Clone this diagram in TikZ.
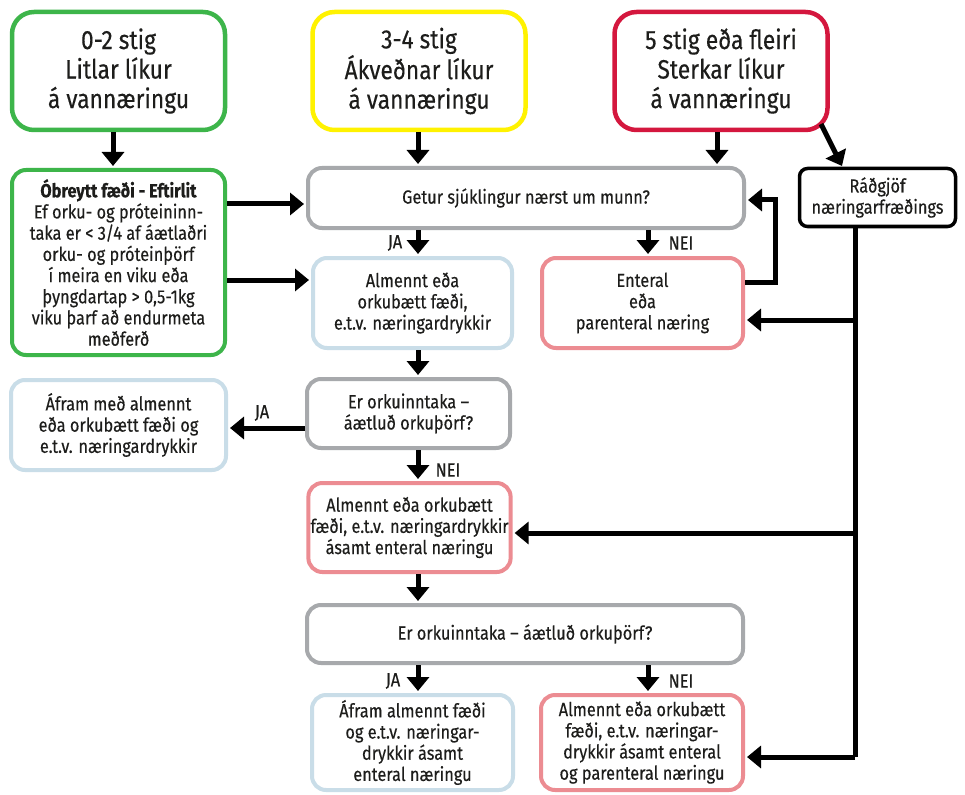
\documentclass[tikz,border=0pt]{standalone}
\usepackage{fontspec}
\setmainfont{Fira Sans}[FakeStretch=0.86,FakeBold=0.3]
\usetikzlibrary{arrows.meta,calc}
\definecolor{cgreen}{HTML}{3DB54A}
\definecolor{cyellow}{HTML}{FFF200}
\definecolor{cred}{HTML}{D4173E}
\definecolor{cgray}{HTML}{A7A9AC}
\definecolor{cblue}{HTML}{C9DDE8}
\definecolor{cpink}{HTML}{EC8C92}
\definecolor{ctext}{HTML}{1D1D1B}
\tikzset{
  box/.style={draw, rounded corners=14pt, line width=4pt, align=center,
    inner sep=2pt, text=ctext, font=\fontsize{19}{21.2}\selectfont},
  topbox/.style={box, rounded corners=22pt, line width=4.5pt,
    minimum width=213pt, minimum height=118pt,
    font=\fontsize{26.5}{29.5}\selectfont},
  arr/.style={line width=5pt, -{Triangle[width=22pt,length=14pt]}, shorten >=2pt},
  wire/.style={line width=5pt},
  lbl/.style={text=ctext, font=\fontsize{19}{21}\selectfont, inner sep=0pt}
}
\begin{document}
\begin{tikzpicture}[x=1pt,y=-1pt]
\useasboundingbox[fill=white] (0,0) rectangle (965,794);

% risk level boxes
\node[topbox, draw=cgreen]  (t1) at (118.5,71) {0-2 stig\\Litlar líkur\\á vannæringu};
\node[topbox, draw=cyellow] (t2) at (419,71)   {3-4 stig\\Ákveðnar líkur\\á vannæringu};
\node[topbox, draw=cred]    (t3) at (721,71)   {5 stig eða fleiri\\Sterkar líkur\\á vannæringu};

% second row
\node[box, draw=cgreen, minimum width=213pt, minimum height=185pt] (g2) at (118.5,262.5)
  {\textbf{Óbreytt fæði - Eftirlit}\\Ef orku- og próteininn-\\taka er < 3/4 af áætlaðri\\orku- og próteinþörf\\í meira en viku eða\\þyngdartap > 0,5-1kg\\viku þarf að endurmeta\\meðferð};
\node[box, draw=cgray, minimum width=436pt, minimum height=60pt] (q1) at (526,198)
  {Getur sjúklingur nærst um munn?};
\node[box, draw=black, line width=3.5pt, rounded corners=8pt, minimum width=156pt, minimum height=58pt] (rd) at (877.5,197.5)
  {Ráðgjöf\\næringarfræðings};

% third row
\node[box, draw=cblue, minimum width=199pt, minimum height=90pt] (a1) at (412.5,303)
  {Almennt eða\\orkubætt fæði,\\e.t.v. næringardrykkir};
\node[box, draw=cpink, minimum width=201pt, minimum height=90pt] (en) at (642.5,303)
  {Enteral\\eða\\parenteral næring};

% middle column
\node[box, draw=cgray, minimum width=203pt, minimum height=69pt] (q2) at (408.5,413.5)
  {Er orkuinntaka –\\áætluð orkuþörf?};
\node[box, draw=cblue, minimum width=215pt, minimum height=90pt] (af) at (118.5,425)
  {Áfram með almennt\\eða orkubætt fæði og\\e.t.v. næringardrykkir};
\node[box, draw=cpink, minimum width=201pt, minimum height=89pt] (p2) at (409.5,527.5)
  {Almennt eða orkubætt\\fæði, e.t.v. næringardrykkir\\ásamt enteral næringu};
\node[box, draw=cgray, minimum width=436pt, minimum height=58pt] (q3) at (525,634)
  {Er orkuinntaka – áætluð orkuþörf?};

% bottom row
\node[box, draw=cblue, minimum width=201pt, minimum height=95pt] (b1) at (412.5,742.5)
  {Áfram almennt fæði\\og e.t.v. næringar-\\drykkir ásamt\\enteral næringu};
\node[box, draw=cpink, minimum width=202pt, minimum height=95pt] (b2) at (642,742.5)
  {Almennt eða orkubætt\\fæði, e.t.v. næringar-\\drykkir ásamt enteral\\og parenteral næringu};

% column and row guides for the connectors
\coordinate (xg) at (113,0);
\coordinate (xm) at (418,0);
\coordinate (xn) at (648,0);
\coordinate (xr) at (717,0);
\coordinate (xv) at (855,0);
\coordinate (ya) at (0,204);
\coordinate (yb) at (0,280);
\coordinate (lp) at (775,282);
\coordinate (ly) at (0,200);
\coordinate (r1) at (855,320);
\coordinate (r2) at (855,533);
\coordinate (r3) at (855,757);
\coordinate (yj) at (0,428);
\coordinate (d0) at (821,124);
\coordinate (d1) at (842,166);

% connectors from the risk boxes
\draw[arr] (t1.south -| xg) -- (g2.north -| xg);
\draw[arr] (t2.south -| xm) -- (q1.north -| xm);
\draw[arr] (t3.south -| xr) -- (q1.north -| xr);
\draw[arr, shorten >=0pt] (d0) -- (d1);

% follow-up arrows from the green box
\draw[arr] (g2.east |- ya) -- (q1.west |- ya);
\draw[arr] (g2.east |- yb) -- (a1.west |- yb);

% first question
\draw[arr] (q1.south -| xm) -- (a1.north -| xm);
\draw[arr] (q1.south -| xn) -- (en.north -| xn);
\node[lbl] (ja1) at (395,243) {JA};
\node[lbl] (nei1) at (681,243) {NEI};

% loop back from enteral feeding
\draw[arr] (en.east |- lp) -- (lp) -- (lp |- ly) -- (q1.east |- ly);

% dietitian line with branches
\draw[wire] (rd.south -| xv) -- (r3);
\draw[arr] (r1) -- (en.east |- r1);
\draw[arr] (r2) -- (p2.east |- r2);
\draw[arr] (r3) -- (b2.east |- r3);

% second question
\draw[arr] (a1.south -| xm) -- (q2.north -| xm);
\draw[arr] (q2.west |- yj) -- (af.east |- yj);
\node[lbl] (ja2) at (262,413) {JA};
\draw[arr] (q2.south -| xm) -- (p2.north -| xm);
\node[lbl] (nei2) at (448,470) {NEI};
\draw[arr] (p2.south -| xm) -- (q3.north -| xm);

% third question
\draw[arr] (q3.south -| xm) -- (b1.north -| xm);
\draw[arr] (q3.south -| xn) -- (b2.north -| xn);
\node[lbl] (ja3) at (393,681) {JA};
\node[lbl] (nei3) at (681,681) {NEI};
\end{tikzpicture}
\end{document}
